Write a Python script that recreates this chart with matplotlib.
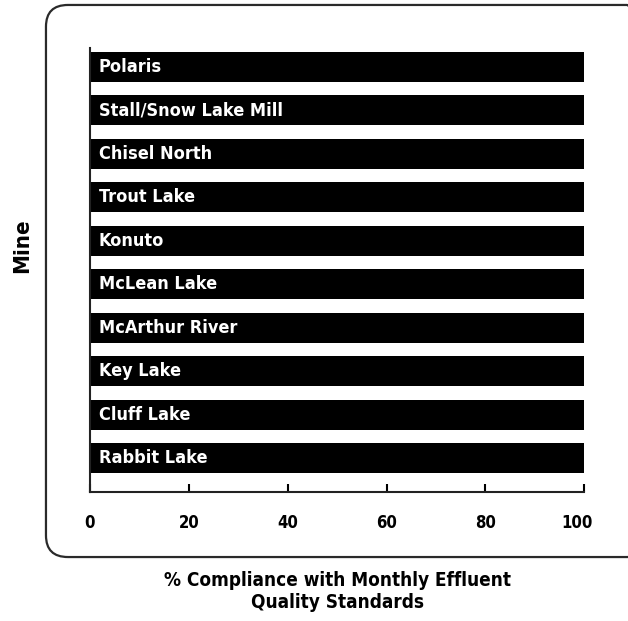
import matplotlib
matplotlib.use("Agg")
import matplotlib.pyplot as plt
from matplotlib.patches import FancyBboxPatch
from matplotlib.transforms import ScaledTranslation

mines = ["Rabbit Lake", "Cluff Lake", "Key Lake", "McArthur River", "McLean Lake",
         "Konuto", "Trout Lake", "Chisel North", "Stall/Snow Lake Mill", "Polaris"]
compliance = [100, 100, 100, 100, 100, 100, 100, 100, 100, 100]
xticks = [0, 20, 40, 60, 80, 100]

plt.rcParams["font.family"] = ["DejaVu Sans"]
plt.rcParams["font.stretch"] = "condensed"
plt.rcParams["font.weight"] = "bold"

fig = plt.figure(figsize=(6.28, 6.21), dpi=100)
ax = fig.add_axes([0.1433, 0.2077, 0.787, 0.715])

# rounded frame around the plot
box = FancyBboxPatch((0.0732, 0.103), 0.96, 0.889,
                     boxstyle="round,pad=0,rounding_size=0.035",
                     transform=fig.transFigure, fill=False,
                     edgecolor="#2a2a2a", linewidth=1.6, clip_on=False)
fig.patches.append(box)

ypos = list(range(len(mines)))
ax.barh(ypos, compliance, height=0.69, color="black")
for y, name in zip(ypos, mines):
    ax.text(1.8, y, name, color="white", fontsize=13, fontweight="bold",
            va="center", ha="left")

ax.set_xlim(0, 100)
ax.set_ylim(-0.78, 9.43)
ax.set_yticks([])
ax.set_xticks(xticks)
ax.set_xticklabels([str(t) for t in xticks], fontsize=12, fontweight="bold")
ax.tick_params(axis="x", direction="in", length=6, width=1.5, pad=16)
# last label sits a little left of its tick
last = ax.get_xticklabels()[-1]
last.set_transform(last.get_transform() + ScaledTranslation(-7 / 100, 0, fig.dpi_scale_trans))
for s in ["top", "right"]:
    ax.spines[s].set_visible(False)
for s in ["left", "bottom"]:
    ax.spines[s].set_linewidth(1.5)
    ax.spines[s].set_color("#222222")

ax.set_ylabel("Mine", fontsize=16, fontweight="bold")
ax.yaxis.set_label_coords(-0.117, 0.555)
ax.set_xlabel("% Compliance with Monthly Effluent\nQuality Standards",
              fontsize=13.6, fontweight="bold", linespacing=1.2)
ax.xaxis.set_label_coords(0.5, -0.178)

fig.savefig("out.png", dpi=100)
